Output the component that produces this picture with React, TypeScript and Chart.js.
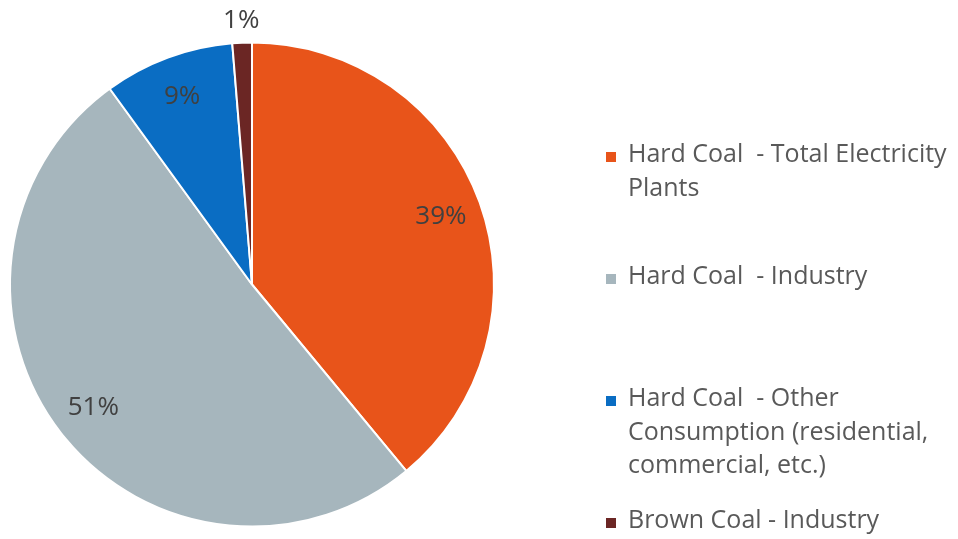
import React, { useEffect, useRef } from "react";
import { Chart, registerables } from "chart.js";

Chart.register(...registerables);

const categories: string[][] = [
  ["Hard Coal  - Total Electricity", "Plants"],
  ["Hard Coal  - Industry"],
  ["Hard Coal  - Other", "Consumption (residential,", "commercial, etc.)"],
  ["Brown Coal - Industry"],
];
const shares: number[] = [39, 51, 8.7, 1.3];
const shareLabels: string[] = ["39%", "51%", "9%", "1%"];
const colors: string[] = ["#E8541A", "#A6B6BD", "#0A6DC3", "#6B2624"];

const FONT = "'Open Sans', 'Noto Sans', sans-serif";

const labelPlugin = {
  id: "customLabels",
  afterDatasetsDraw(chart: any) {
    const ctx = chart.ctx;
    const meta = chart.getDatasetMeta(0);
    ctx.save();
    ctx.font = `26px ${FONT}`;
    ctx.fillStyle = "#404040";
    ctx.textAlign = "center";
    ctx.textBaseline = "middle";
    meta.data.forEach((arc: any, i: number) => {
      const { x, y, startAngle, endAngle, outerRadius } = arc.getProps(
        ["x", "y", "startAngle", "endAngle", "outerRadius"],
        true
      );
      const mid = (startAngle + endAngle) / 2;
      const frac = shares[i] / shares.reduce((a, b) => a + b, 0);
      const r = frac < 0.03 ? outerRadius + 22 : outerRadius * 0.83;
      ctx.fillText(shareLabels[i], x + Math.cos(mid) * r, y + Math.sin(mid) * r);
    });

    // legend
    const legendX = 606;
    const firstBaseline = 162;
    const lastBaseline = 528;
    const step = (lastBaseline - firstBaseline) / (categories.length - 1);
    const lineH = 33.5;
    ctx.textAlign = "left";
    ctx.textBaseline = "alphabetic";
    ctx.font = `25px ${FONT}`;
    categories.forEach((lines, i) => {
      const base = firstBaseline + step * i;
      ctx.fillStyle = colors[i];
      ctx.fillRect(legendX, base - 10, 10, 10);
      ctx.fillStyle = "#595959";
      lines.forEach((ln, j) => {
        ctx.fillText(ln, legendX + 22, base + j * lineH);
      });
    });
    ctx.restore();
  },
};

export default function App() {
  const ref = useRef<HTMLCanvasElement>(null);
  useEffect(() => {
    document.body.style.margin = "0";
    const chart = new Chart(ref.current!, {
      type: "pie",
      data: {
        labels: categories.map((c) => c.join(" ")),
        datasets: [
          {
            data: shares,
            backgroundColor: colors,
            borderColor: "#ffffff",
            borderWidth: 2,
          },
        ],
      },
      options: {
        animation: false,
        responsive: false,
        layout: { padding: { left: 9, top: 41, bottom: 11, right: 463 } },
        plugins: { legend: { display: false }, tooltip: { enabled: false } },
      },
      plugins: [labelPlugin],
    });
    return () => chart.destroy();
  }, []);
  return (
    <div style={{ width: 958, height: 539, background: "#fff" }}>
      <canvas ref={ref} width={958} height={539} />
    </div>
  );
}
